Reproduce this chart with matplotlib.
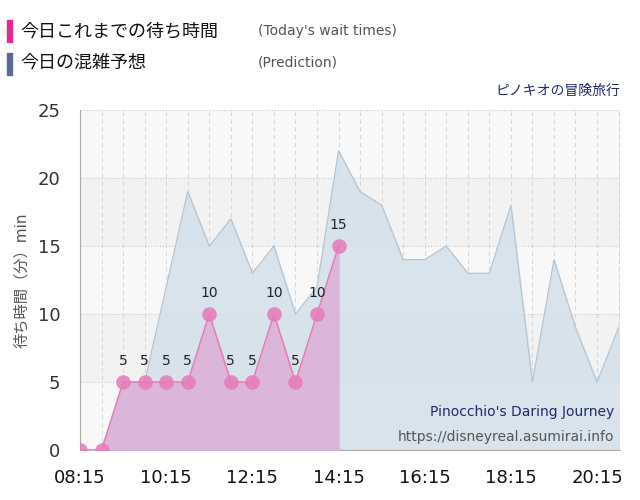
import matplotlib.pyplot as plt
import numpy as np
from matplotlib.patches import Rectangle

plt.rcParams['font.family'] = ['DejaVu Sans', 'Noto Sans CJK JP']

# minutes since 08:15, 30-min steps
wait_t = [0, 30, 60, 90, 120, 150, 180, 210, 240, 270, 300, 330, 360]
wait_v = [0, 0, 5, 5, 5, 5, 10, 5, 5, 10, 5, 10, 15]

pred_t = list(range(0, 751, 30))
pred_v = [0, 0, 5, 5, 12, 19, 15, 17, 13, 15, 10, 12, 22, 19, 18, 14,
          14, 15, 13, 13, 18, 5, 14, 9, 5, 9]

tick_pos = [0, 120, 240, 360, 480, 600, 720]
tick_lab = ['08:15', '10:15', '12:15', '14:15', '16:15', '18:15', '20:15']

fig = plt.figure(figsize=(6.4, 5.0), dpi=100)
ax = fig.add_axes([80/640, 50/500, 540/640, 340/500])
ax.set_xlim(0, 752)
ax.set_ylim(0, 25)

# striped background
for i, y0 in enumerate(range(0, 25, 5)):
    ax.axhspan(y0, y0 + 5, color='#f8f8f8' if i % 2 == 0 else '#f2f2f2', zorder=0, lw=0)
for x in range(30, 752, 30):
    ax.axvline(x, color='#d8d8d8', ls=(0, (4, 3)), lw=0.8, zorder=1)
for y in range(5, 26, 5):
    ax.axhline(y, color='#cccccc', ls=':', lw=0.8, zorder=1)

ax.fill_between(pred_t, pred_v, color='#d5e1ea', alpha=0.9, zorder=2)
ax.plot(pred_t, pred_v, color='#b4c4d0', lw=0.8, zorder=2)

ax.fill_between(wait_t, wait_v, color='#dcb2d8', alpha=0.9, zorder=3)
ax.plot(wait_t, wait_v, color='#e87ab8', lw=1, zorder=4)
ax.scatter(wait_t, wait_v, s=110, color='#e77ab8', alpha=0.85, zorder=5, lw=0)
for t, v in zip(wait_t, wait_v):
    if v > 0:
        ax.text(t, v + 1.0, str(v), ha='center', va='bottom', fontsize=10, color='#222222', zorder=6)

ax.set_xticks(tick_pos)
ax.set_xticklabels(tick_lab, fontsize=13, color='#111111')
ax.set_yticks(range(0, 26, 5))
ax.set_yticklabels([str(v) for v in range(0, 26, 5)], fontsize=13, color='#333333')
ax.tick_params(axis='x', length=0, pad=14)
ax.tick_params(axis='y', length=0, pad=14)
for s in ['top', 'right']:
    ax.spines[s].set_visible(False)
ax.spines['left'].set_color('#aaaaaa')
ax.spines['bottom'].set_color('#aaaaaa')
ax.set_ylabel('待ち時間（分）min', fontsize=11, color='#555555', labelpad=6)

ax.text(0.99, 0.1, "Pinocchio's Daring Journey", transform=ax.transAxes,
        ha='right', fontsize=10, color='#1f2a6b', zorder=7)
ax.text(0.99, 0.025, 'https://disneyreal.asumirai.info', transform=ax.transAxes,
        ha='right', fontsize=10, color='#555555', zorder=7)

# legend
fig.patches.append(Rectangle((7/640, 1 - 42/500), 5/640, 22/500, color='#e8288c', transform=fig.transFigure))
fig.patches.append(Rectangle((7/640, 1 - 75/500), 5/640, 22/500, color='#5a6a94', transform=fig.transFigure))
fig.text(20/640, 1 - 31/500, '今日これまでの待ち時間', fontsize=13, va='center', color='#111111')
fig.text(20/640, 1 - 63/500, '今日の混雑予想', fontsize=13, va='center', color='#111111')
fig.text(258/640, 1 - 31/500, "(Today's wait times)", fontsize=10, va='center', color='#555555')
fig.text(258/640, 1 - 63/500, '(Prediction)', fontsize=10, va='center', color='#555555')
fig.text(620/640, 1 - 91/500, 'ピノキオの冒険旅行', fontsize=10, ha='right', va='center', color='#1f2a6b')

fig.savefig('out.png', dpi=100)
